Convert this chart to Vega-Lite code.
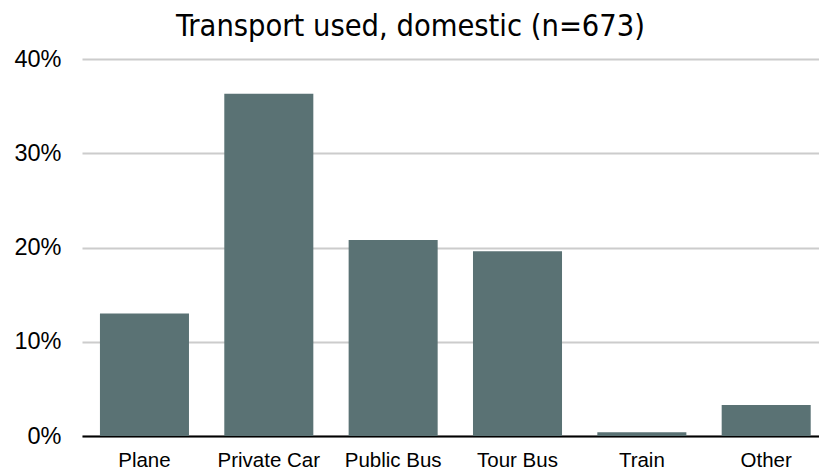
{
  "$schema": "https://vega.github.io/schema/vega-lite/v6.json",
  "width": 737,
  "height": 377,
  "autosize": {"type": "none"},
  "padding": {"left": 82, "top": 59, "right": 0, "bottom": 36},
  "background": "white",
  "title": {
    "text": "Transport used, domestic (n=673)",
    "font": "DejaVu Sans Condensed, DejaVu Sans",
    "fontSize": 30.5,
    "fontWeight": "normal",
    "color": "#000000",
    "anchor": "middle",
    "dx": -40,
    "offset": 5
  },
  "data": {
    "values": [
      {"mode": "Plane", "share": 0.130},
      {"mode": "Private Car", "share": 0.363},
      {"mode": "Public Bus", "share": 0.208},
      {"mode": "Tour Bus", "share": 0.196},
      {"mode": "Train", "share": 0.004},
      {"mode": "Other", "share": 0.033}
    ]
  },
  "mark": {"type": "bar", "color": "#5a7274"},
  "encoding": {
    "x": {
      "field": "mode",
      "type": "nominal",
      "sort": null,
      "scale": {"paddingInner": 0.284, "paddingOuter": 0.1055, "align": 0.684},
      "axis": {
        "title": null,
        "labelAngle": 0,
        "ticks": false,
        "domainColor": "#000000",
        "domainWidth": 2,
        "labelFont": "Liberation Sans",
        "labelFontSize": 20.5,
        "labelColor": "#000000",
        "labelPadding": 14,
        "grid": false
      }
    },
    "y": {
      "field": "share",
      "type": "quantitative",
      "scale": {"domain": [0, 0.4]},
      "axis": {
        "title": null,
        "values": [0, 0.1, 0.2, 0.3, 0.4],
        "format": ".0%",
        "domain": false,
        "ticks": false,
        "grid": true,
        "gridColor": "#cccccc",
        "gridWidth": 2,
        "labelFont": "Liberation Sans",
        "labelFontSize": 23.5,
        "labelColor": "#000000",
        "labelPadding": 21
      }
    }
  },
  "config": {"view": {"stroke": null}}
}
